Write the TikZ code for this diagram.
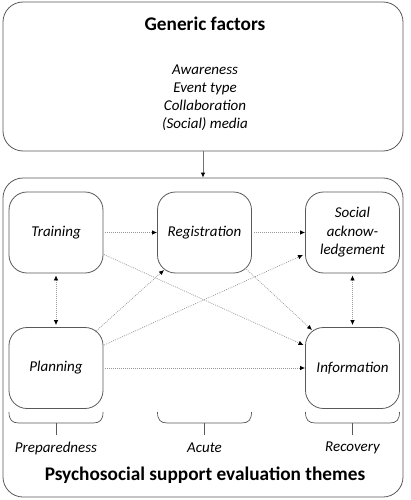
\documentclass[tikz,border=0pt]{standalone}
\usepackage{fontspec}
\setmainfont{Carlito}
\usetikzlibrary{arrows.meta,calc}
\begin{document}
\begin{tikzpicture}[x=1pt,y=-1pt,
 outer/.style={draw=black!65, line width=0.8pt, rounded corners=20pt, inner sep=0pt},
 theme/.style={draw=black!65, line width=0.8pt, rounded corners=18pt, minimum width=94pt, minimum height=81pt, align=center, font=\itshape\fontsize{15}{18.5}\selectfont, inner sep=0pt},
 edge/.style={draw=black!40, line width=0.7pt, dash pattern=on 0.9pt off 1.1pt, -{Latex[length=5pt,width=4.5pt,color=black]}},
 bedge/.style={draw=black!40, line width=0.7pt, dash pattern=on 0.9pt off 1.1pt, {Latex[length=5pt,width=4.5pt,color=black]}-{Latex[length=5pt,width=4.5pt,color=black]}},
 brace/.style={draw=black!65, line width=0.7pt},
 label/.style={font=\itshape\fontsize{15}{18}\selectfont, inner sep=0pt},
 title/.style={font=\bfseries\fontsize{19.3}{22}\selectfont, inner sep=0pt}]
\useasboundingbox (0,0) rectangle (410,500);

% outer boxes
\node[outer, minimum width=400pt, minimum height=149pt] (gen) at (203,76.5) {};
\node[outer, minimum width=400pt, minimum height=319pt] (psy) at (203,337.5) {};
\node[title] (gent) at (205,24) {Generic factors};
\node[label, align=center, font=\itshape\fontsize{15}{18}\selectfont] (genl) at (205,98) {Awareness\\Event type\\Collaboration\\(Social) media};
\draw[draw=black!55, line width=0.8pt, -{Latex[length=5pt,width=4.5pt,color=black]}] (gen.south) -- (psy.north);

% theme boxes
\node[theme] (train) at (56,232.5) {Training};
\node[theme] (reg) at (204.5,232.5) {Registration};
\node[theme] (soc) at (352.5,232.5) {Social\\acknow-\\ledgement};
\node[theme] (plan) at (56,368) {Planning};
\node[theme] (info) at (352.5,368) {Information};

% connectors
\draw[edge, shorten <=2pt] (train.east) -- (reg.west);
\draw[edge, shorten <=2pt] (reg.east) -- (soc.west);
\draw[bedge, shorten <=2pt, shorten >=2pt] (train.south) -- (plan.north);
\draw[bedge, shorten <=2pt, shorten >=2pt] (soc.south) -- (info.north);
\draw[edge, shorten <=2pt] (plan.east) -- (info.west);
\draw[edge] ($(train.center)+(48,22)$) -- ($(info.center)+(-49,-23)$);
\draw[edge] ($(reg.center)+(40.5,35.5)$) -- ($(info.center)+(-40.5,-38)$);
\draw[edge] ($(plan.center)+(39,-36)$) -- ($(reg.center)+(-40.5,37.5)$);
\draw[edge] ($(plan.center)+(48,-23)$) -- ($(soc.center)+(-49.5,22.5)$);

% braces
\foreach \c in {56,204.5,352.5} {
  \draw[brace] (\c-47,412) .. controls (\c-47,420) and (\c-44,423) .. (\c-37,423)
    -- (\c+37,423) .. controls (\c+44,423) and (\c+47,420) .. (\c+47,412);
  \draw[brace] (\c,423) -- (\c,435);
}
\node[label] (prep) at (56,448) {Preparedness};
\node[label] (acute) at (204.5,448) {Acute};
\node[label] (recov) at (352.5,448) {Recovery};
\node[title] (psyt) at (205,475) {Psychosocial support evaluation themes};
\end{tikzpicture}
\end{document}
